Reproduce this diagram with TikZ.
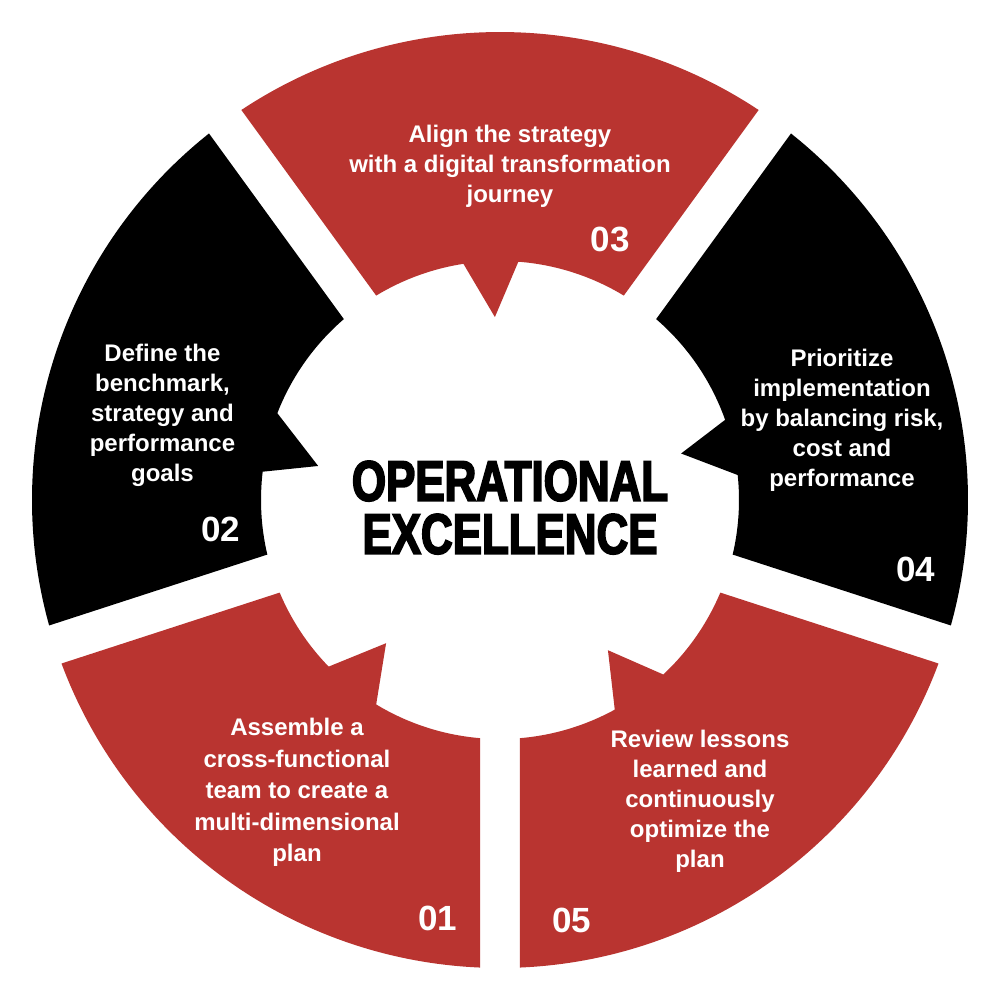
\documentclass[tikz,border=0pt]{standalone}
\usepackage{fontspec}
\setmainfont{Liberation Sans}
\newfontfamily\titlefont{Liberation Sans}[FakeStretch=0.77,BoldFeatures={FakeBold=3}]
\definecolor{segred}{RGB}{185,52,48}
% #1 colour, #2 #3 gap angles, #4 #5 pointer base angles, #6 tip angle, #7 tip radius
\newcommand\ringseg[7]{%
  \fill[#1] ({#2+2.449}:468) -- ({#2+4.8}:239)
    arc[start angle={#2+4.8}, end angle=#4, radius=239]
    -- (#6:#7) -- (#5:239)
    arc[start angle=#5, end angle={#3-4.8}, radius=239]
    -- ({#3-2.449}:468)
    arc[start angle={#3-2.449}, end angle={#2+2.449}, radius=468] -- cycle;}
\begin{document}
\begin{tikzpicture}[x=1pt,y=1pt,
  seglabel/.style={text=white, font=\bfseries\fontsize{24}{30}\selectfont, align=center, inner sep=0, anchor=north},
  segnum/.style={text=white, font=\bfseries\fontsize{35}{35}\selectfont, inner sep=0},
  titlelabel/.style={text=black, font=\titlefont\bfseries\fontsize{57}{53}\selectfont, align=center, inner sep=0, anchor=north}]
\useasboundingbox[fill=white] (-500,-499) rectangle (499,500);
% segments
\ringseg{segred}{198}{270}{224.2}{238.8}{231.5}{183}
\ringseg{black}{126}{198}{158.7}{173.2}{169.4}{185}
\ringseg{segred}{54}{126}{85.6}{98.8}{91.6}{183}
\ringseg{black}{-18}{54}{6.0}{19.6}{14.4}{187}
\ringseg{segred}{-90}{-18}{-61.3}{-46.9}{-54.3}{185}
% texts
\node[seglabel] (t03) at (10,375) {Align the strategy\\with a digital transformation\\journey};
\node[seglabel] (t02) at (-337.5,155.7) {Define the\\benchmark,\\strategy and\\performance\\goals};
\node[seglabel] (t04) at (342,150.7) {Prioritize\\implementation\\by balancing risk,\\cost and\\performance};
\node[seglabel, font=\bfseries\fontsize{24}{31.5}\selectfont] (t01) at (-203,-218.3) {Assemble a\\cross-functional\\team to create a\\multi-dimensional\\plan};
\node[seglabel] (t05) at (200,-230) {Review lessons\\learned and\\continuously\\optimize the\\plan};
% numbers
\node[segnum] (n03) at (110.3,260.8) {03};
\node[segnum] (n02) at (-279,-29) {02};
\node[segnum] (n04) at (416,-69) {04};
\node[segnum] (n01) at (-62.5,-418.3) {01};
\node[segnum] (n05) at (71.7,-420) {05};
% title
\node[titlelabel] (title) at (10,39.3) {OPERATIONAL\\EXCELLENCE};
\end{tikzpicture}
\end{document}
